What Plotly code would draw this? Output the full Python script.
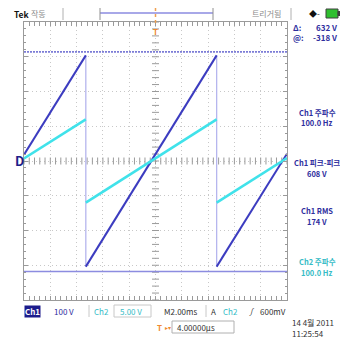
import plotly.graph_objects as go

W, H = 348, 343
OFF = 8  # page body margin offset
L, R, T, B = 24, 287, 22, 300  # graticule box in reference pixels

time_ms = [-10, -5.3, -5.3, 4.65, 4.65, 10]
ch1_volts = [18, 304, -304, 304, -304, 21]
ch2_volts = [0.36, 6.0, -6.0, 6.0, -6.0, 0.42]
ramp_pairs = [(0, 1), (2, 3), (4, 5)]
edge_pairs = [(1, 2), (3, 4)]
cursor_delta_v = 632
cursor_at_v = -318

readout_labels = ["Ch1 주파수", "Ch1 피크-피크", "Ch1 RMS", "Ch2 주파수"]
readout_values = ["100.0 Hz", "608 V", "174 V", "100.0 Hz"]
readout_y_px = [112, 162, 210, 261]
readout_colors = ["#2e2e9e", "#2e2e9e", "#2e2e9e", "#36bcc6"]

NAVY = "#3c3cc0"
CYAN = "#40e2ea"
LAV = "#b6b6ee"
GRID = "#9a9a9a"
TXT = "#2e2e9e"
FONT = "Liberation Sans Narrow, Noto Sans CJK KR, sans-serif"


def segs(xs, ys, pairs):
    ox, oy = [], []
    for a, b in pairs:
        ox += [xs[a], xs[b], None]
        oy += [ys[a], ys[b], None]
    return ox, oy


def px(x):
    return (x - L) / (R - L)


def py(y):
    return (B - y) / (B - T)


fig = go.Figure()

# graticule centre-cross tick marks (decoration)
cx = [i * 0.4 - 10 for i in range(51)]
cy = [i * 20 - 400 for i in range(41)]
fig.add_trace(go.Scatter(x=cx, y=[0] * len(cx), mode="markers", hoverinfo="skip",
                         marker=dict(symbol="line-ns", size=5, line=dict(color=GRID, width=1))))
fig.add_trace(go.Scatter(x=[0] * len(cy), y=cy, mode="markers", hoverinfo="skip",
                         marker=dict(symbol="line-ew", size=5, line=dict(color=GRID, width=1))))

# falling edges (faint)
ex, ey = segs(time_ms, ch1_volts, edge_pairs)
fig.add_trace(go.Scatter(x=ex, y=ey, mode="lines", line=dict(color=LAV, width=1.3), hoverinfo="skip"))

# cursors
top_cursor = cursor_at_v + cursor_delta_v
fig.add_trace(go.Scatter(x=[-10, 10], y=[top_cursor, top_cursor], mode="lines",
                         line=dict(color="#7c7cd6", width=1.6, dash="2px,1px"), hoverinfo="skip"))
fig.add_trace(go.Scatter(x=[-10, 10], y=[cursor_at_v, cursor_at_v], mode="lines",
                         line=dict(color="#8c8ce0", width=1.6), hoverinfo="skip"))

# Ch2 ramps
c2x, c2y = segs(time_ms, ch2_volts, ramp_pairs)
fig.add_trace(go.Scatter(x=c2x, y=c2y, mode="lines", yaxis="y2",
                         line=dict(color=CYAN, width=2.6), hoverinfo="skip"))
# Ch1 ramps
c1x, c1y = segs(time_ms, ch1_volts, ramp_pairs)
fig.add_trace(go.Scatter(x=c1x, y=c1y, mode="lines",
                         line=dict(color=NAVY, width=2.0), hoverinfo="skip"))

axis_common = dict(showgrid=True, gridcolor="#c8c8c8", griddash="1px,3px", gridwidth=1,
                   showline=True, linecolor=GRID, linewidth=1, mirror="allticks",
                   ticks="inside", ticklen=4, tickcolor=GRID, showticklabels=False,
                   zeroline=False, fixedrange=True)
fig.update_layout(
    width=W - OFF, height=H - OFF,
    margin=dict(l=L - OFF, r=W - R, t=T - OFF, b=H - B, pad=0),
    paper_bgcolor="white", plot_bgcolor="white", showlegend=False,
    xaxis=dict(range=[-10, 10], dtick=2, tick0=0,
               minor=dict(dtick=0.4, ticks="inside", ticklen=2, tickcolor=GRID, showgrid=False),
               **axis_common),
    yaxis=dict(range=[-400, 400], dtick=100, tick0=0,
               minor=dict(dtick=20, ticks="inside", ticklen=2, tickcolor=GRID, showgrid=False),
               **axis_common),
    yaxis2=dict(range=[-20, 20], overlaying="y", visible=False, fixedrange=True),
)

anns = []
shapes = []


def ann(text, x, y, color=TXT, size=8, xanchor="left", **kw):
    anns.append(dict(text=text, x=px(x), y=py(y), xref="paper", yref="paper",
                     xanchor=xanchor, yanchor="middle", showarrow=False,
                     font=dict(family=FONT, size=size, color=color), **kw))


def pline(x0, y0, x1, y1, color, width=1, dash=None):
    shapes.append(dict(type="line", xref="paper", yref="paper", x0=px(x0), y0=py(y0),
                       x1=px(x1), y1=py(y1), line=dict(color=color, width=width, dash=dash)))


def prect(x0, y0, x1, y1, line, fill=None, width=1):
    shapes.append(dict(type="rect", xref="paper", yref="paper", x0=px(x0), y0=py(y0),
                       x1=px(x1), y1=py(y1), line=dict(color=line, width=width),
                       fillcolor=fill))


# ---- top bar ----
ann("<b>Tek</b>", 12, 14, color="#111111", size=8.5)
ann("작동", 29, 14, color="#8a8a8a", size=8)
pline(63, 8, 63, 20, "#b0b0b0")
pline(100, 13, 213, 13, "#a8a8e8", width=2)
pline(100, 8, 100, 20, "#909090")
pline(213, 8, 213, 20, "#909090")
pline(155.5, 8, 155.5, 24, "#f0a050", width=1.5, dash="dot")
ann("<b>T</b>", 155.5, 31, color="#f08a30", size=8, xanchor="center")
ann("트리거됨", 250, 14, color="#8a8a8a", size=8)
pline(291, 8, 291, 20, "#b0b0b0")
ann("◆-", 307, 14, color="#111111", size=8)
prect(326, 9, 338, 18, "#404040", "#2fbf2f", width=1)
prect(338, 11.5, 340, 15.5, "#404040", "#404040", width=1)

# ---- cursor readouts ----
ann("<b>Δ:</b>", 291, 27, size=8)
ann("<b>632 V</b>", 339, 27, size=8, xanchor="right")
ann("<b>@:</b>", 291, 38, size=8)
ann("<b>-318 V</b>", 339, 38, size=8, xanchor="right")

for lab, val, yy, col in zip(readout_labels, readout_values, readout_y_px, readout_colors):
    ann("<b>" + lab + "</b>", 317, yy, color=col, size=7.5, xanchor="center")
    ann("<b>" + val + "</b>", 317, yy + 11, color=col, size=7.5, xanchor="center")

# ground marker
ann("<b>D</b>", 19, 160, color="#1e1e8a", size=13, xanchor="center")

# ---- bottom status row ----
ann("<b>Ch1</b>", 32, 311, color="white", size=8, xanchor="center", bgcolor="#1c1c8c",
    borderpad=0)
ann("100 V", 52, 311, color=TXT, size=8)
pline(89, 305, 89, 317, "#c8c8c8")
ann("Ch2", 92, 311, color="#36bcc6", size=8)
prect(114, 305, 151, 317, "#c8c8c8")
ann("5.00 V", 118, 311, color="#36bcc6", size=8)
ann("M2.00ms", 162, 311, color="#333333", size=8)
pline(206, 305, 206, 317, "#c8c8c8")
ann("A", 209, 311, color="#333333", size=8)
ann("Ch2", 221, 311, color="#36bcc6", size=8)
ann("<i>∫</i>", 245, 311, color="#333333", size=8)
ann("600mV", 258, 311, color="#333333", size=8)

ann("<b>T</b>", 159, 327, color="#f08a30", size=8, xanchor="center")
ann("▸▾", 163, 327, color="#f08a30", size=6)
prect(172, 321, 234, 333, "#b0b0b0")
ann("4.00000µs", 175, 327, color="#333333", size=8)
ann("14 4월 2011", 290, 322, color="#333333", size=8)
ann("11:25:54", 290, 333, color="#333333", size=8)

fig.update_layout(annotations=anns, shapes=shapes)
fig.write_html("out.html")
